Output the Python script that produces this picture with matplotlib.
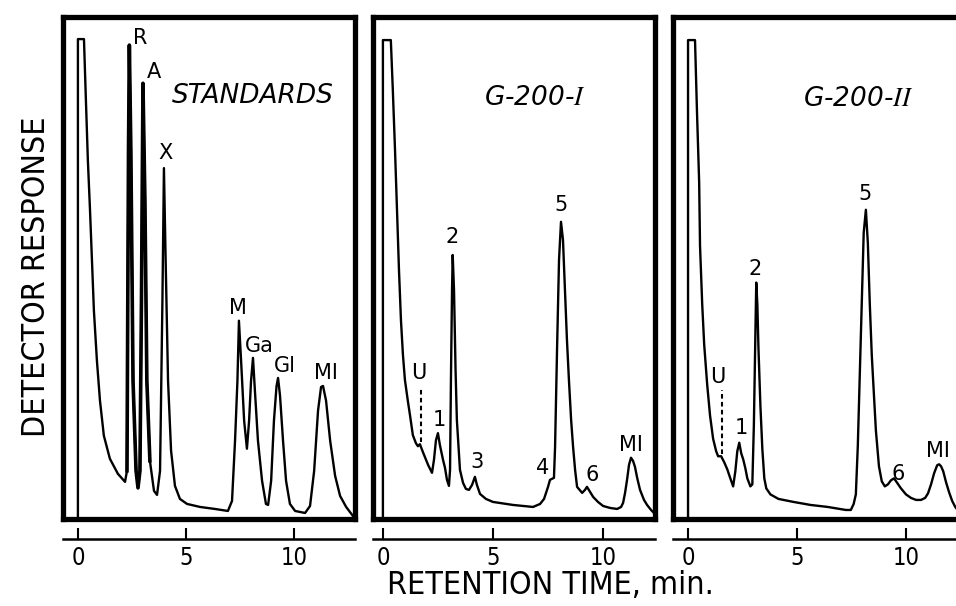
import matplotlib
matplotlib.use('Agg')
import matplotlib.pyplot as plt
from matplotlib import font_manager

# 字体: 有窄体就用窄体
names = {f.name for f in font_manager.fontManager.ttflist}
narrow = 'Liberation Sans Narrow' if 'Liberation Sans Narrow' in names else 'DejaVu Sans'
big = 23
tick_size = 17

plt.rcParams['font.family'] = 'DejaVu Sans'

# 数据: (保留时间 min, 检测器响应 % 满量程)
standards = [
    (0.00, 0), (0.00, 95.6), (0.28, 95.6), (0.37, 83.4), (0.46, 71.5), (0.56, 61.5),
    (0.65, 51.5), (0.74, 41.5), (0.88, 31.5), (1.02, 23.6), (1.20, 16.6), (1.48, 12.0),
    (1.85, 9.0), (2.18, 7.4), (2.27, 9.6), (2.34, 73.5), (2.38, 94.4), (2.45, 73.5),
    (2.55, 27.5), (2.69, 9.6), (2.78, 6.2), (2.87, 9.6), (2.94, 43.5), (3.01, 86.8),
    (3.10, 63.5), (3.19, 27.5), (3.33, 11.6), (3.52, 5.6), (3.66, 4.8), (3.80, 9.6),
    (3.91, 43.5), (3.98, 69.9), (4.05, 53.5), (4.17, 27.5), (4.31, 13.6), (4.49, 6.6),
    (4.72, 4.0), (5.05, 3.0), (5.65, 2.4), (6.34, 2.0), (6.94, 1.6), (7.13, 3.6),
    (7.27, 15.6), (7.38, 27.5), (7.45, 39.5), (7.55, 31.5), (7.69, 19.6), (7.82, 14.0),
    (7.92, 19.6), (8.01, 27.5), (8.10, 32.1), (8.19, 25.5), (8.33, 15.6), (8.52, 7.6),
    (8.70, 3.0), (8.80, 2.8), (8.94, 7.6), (9.07, 19.6), (9.19, 26.5), (9.26, 28.1),
    (9.35, 24.6), (9.49, 15.6), (9.63, 7.6), (9.81, 3.0), (10.05, 1.6), (10.51, 1.2),
    (10.74, 2.6), (10.93, 9.6), (11.11, 21.6), (11.25, 26.3), (11.34, 26.5), (11.48, 23.6),
    (11.67, 15.6), (11.90, 8.6), (12.13, 4.6), (12.41, 2.4), (12.69, 0.8), (12.82, 0),
]

g200_1 = [
    (0.00, 0), (0.00, 95.4), (0.36, 95.4), (0.45, 85.5), (0.55, 73.5), (0.64, 61.6),
    (0.73, 49.6), (0.82, 39.6), (0.91, 32.7), (1.00, 27.7), (1.14, 23.3), (1.23, 20.7),
    (1.36, 16.7), (1.50, 15.1), (1.59, 14.5), (1.68, 14.9), (1.82, 13.3), (2.05, 10.8),
    (2.23, 9.2), (2.32, 11.8), (2.41, 15.7), (2.50, 17.1), (2.59, 14.7), (2.73, 11.8),
    (2.82, 10.2), (2.91, 7.8), (3.00, 6.6), (3.05, 9.8), (3.09, 27.7), (3.14, 45.6),
    (3.17, 52.6), (3.23, 45.6), (3.30, 29.7), (3.36, 19.7), (3.50, 9.8), (3.64, 7.2),
    (3.77, 6.0), (3.91, 5.8), (4.05, 6.8), (4.18, 8.4), (4.27, 6.8), (4.41, 5.0),
    (4.68, 4.0), (5.00, 3.4), (5.91, 2.8), (6.82, 2.4), (7.14, 3.0), (7.32, 4.0),
    (7.50, 6.4), (7.59, 7.8), (7.77, 8.2), (7.82, 14.3), (7.91, 33.7), (8.00, 51.6),
    (8.09, 59.2), (8.18, 55.6), (8.27, 45.6), (8.36, 35.7), (8.45, 27.7), (8.55, 19.7),
    (8.64, 14.3), (8.73, 9.8), (8.82, 6.4), (9.05, 5.2), (9.18, 5.8), (9.27, 6.4),
    (9.41, 5.4), (9.55, 4.4), (9.77, 3.4), (10.00, 2.6), (10.32, 2.2), (10.64, 2.0),
    (10.82, 2.4), (10.91, 3.2), (11.00, 5.2), (11.09, 7.8), (11.18, 10.8), (11.27, 12.2),
    (11.36, 11.6), (11.45, 10.4), (11.55, 8.2), (11.68, 5.8), (11.86, 3.8), (12.00, 2.8),
    (12.18, 1.8), (12.27, 1.4), (12.36, 1.0),
]

g200_2 = [
    (0.00, 0), (0.00, 95.4), (0.32, 95.4), (0.41, 81.2), (0.51, 67.1), (0.55, 54.4),
    (0.65, 42.8), (0.74, 34.8), (0.88, 26.7), (1.01, 20.6), (1.15, 16.0), (1.29, 13.5),
    (1.38, 12.5), (1.52, 12.5), (1.66, 11.3), (1.80, 9.9), (1.94, 8.1), (2.07, 6.5),
    (2.17, 9.5), (2.26, 13.5), (2.35, 15.2), (2.44, 13.1), (2.53, 11.9), (2.63, 10.1),
    (2.72, 8.1), (2.86, 6.5), (2.95, 6.9), (3.02, 18.6), (3.09, 36.8), (3.13, 47.1),
    (3.18, 42.8), (3.23, 34.2), (3.32, 22.6), (3.41, 13.9), (3.50, 8.1), (3.59, 6.1),
    (3.78, 4.9), (4.15, 4.0), (4.84, 3.4), (5.62, 2.8), (6.41, 2.4), (7.24, 1.8),
    (7.47, 1.8), (7.60, 3.0), (7.70, 4.9), (7.79, 14.6), (7.88, 28.7), (7.97, 42.8),
    (8.06, 57.0), (8.16, 61.6), (8.25, 55.0), (8.34, 42.8), (8.43, 32.7), (8.53, 24.7),
    (8.62, 17.6), (8.76, 10.5), (8.89, 7.5), (9.03, 6.5), (9.17, 6.9), (9.31, 7.7),
    (9.45, 8.1), (9.58, 7.3), (9.77, 6.1), (10.00, 4.9), (10.23, 4.2), (10.46, 3.8),
    (10.69, 3.8), (10.88, 4.2), (11.01, 5.1), (11.15, 6.9), (11.29, 9.1), (11.43, 10.7),
    (11.52, 10.9), (11.61, 10.5), (11.71, 9.5), (11.84, 7.3), (11.98, 5.3), (12.12, 3.6),
    (12.26, 2.4), (12.44, 1.4), (12.80, 0.6),
]

x_ticks = [0, 5, 10]
titles = ['STANDARDS', r'G-200-$\mathit{I}$', r'G-200-$\mathit{II}$']

# 峰标记 (文字, 时间, 高度)
peak_labels = [
    [('R', 2.87, 95.8), ('A', 3.52, 89.0), ('X', 4.07, 72.9), ('M', 7.41, 42.1),
     ('Ga', 8.38, 34.5), ('Gl', 9.58, 30.5), ('MI', 11.48, 29.1)],
    [('U', 1.64, 29.0), ('1', 2.55, 19.7), ('2', 3.14, 56.2), ('3', 4.27, 11.4),
     ('4', 7.27, 10.2), ('5', 8.10, 62.5), ('6', 9.50, 8.8), ('MI', 11.27, 14.7)],
    [('U', 1.38, 28.3), ('1', 2.44, 18.2), ('2', 3.09, 49.9), ('5', 8.11, 64.7),
     ('6', 9.65, 8.9), ('MI', 11.47, 13.5)],
]
u_marks = [None, (1.73, 15.3, 26.1), (1.55, 13.0, 25.7)]
# 笔画较粗的峰段 (R, A)
thick_range = [(2.27, 3.33), None, None]

traces = [standards, g200_1, g200_2]

# 每个面板的位置 (像素) 和 x 范围
W, H = 956, 606
panels = [
    (63, 355, (-0.69, 12.82), (8.1, 84.2)),
    (373, 655, (-0.45, 12.36), (6.9, 83.9)),
    (673, 967, (-0.69, 12.80), (7.8, 83.7)),
]
top_px, bot_px = 17, 519

fig = plt.figure(figsize=(W / 100, H / 100), dpi=100)

for i, (x0, x1, xl, tpos) in enumerate(panels):
    ax = fig.add_axes([x0 / W, (H - bot_px) / H, (x1 - x0) / W, (bot_px - top_px) / H])
    t = [p[0] for p in traces[i]]
    r = [p[1] for p in traces[i]]
    ax.plot(t, r, color='black', linewidth=1.7, solid_joinstyle='round')
    if thick_range[i] is not None:
        a, b = thick_range[i]
        seg = [p for p in traces[i] if a <= p[0] <= b]
        ax.plot([p[0] for p in seg], [p[1] for p in seg], color='black',
                linewidth=2.6, solid_joinstyle='round')
    ax.set_xlim(*xl)
    ax.set_ylim(0, 100)
    ax.set_xticks([])
    ax.set_yticks([])
    for s in ax.spines.values():
        s.set_linewidth(3.8)
        s.set_color('black')

    ax.text(tpos[0], tpos[1], titles[i], fontsize=19, style='italic',
            ha='center', va='center', math_fontfamily='stix')
    for txt, lx, ly in peak_labels[i]:
        ax.text(lx, ly, txt, fontsize=15, ha='center', va='center')
    if u_marks[i] is not None:
        ux, ua, ub = u_marks[i]
        ax.plot([ux, ux], [ua, ub], color='black', linewidth=1.5, linestyle=(0, (2.2, 1.6)))

    # 下面单独的时间轴
    sec = ax.secondary_xaxis(-(539 - bot_px) / (bot_px - top_px))
    sec.set_xticks(x_ticks)
    sec.tick_params(direction='in', length=8, width=1.5, pad=5, labelsize=tick_size)
    for lab in sec.get_xticklabels():
        lab.set_family(narrow)
        lab.set_stretch('condensed')
    for s in sec.spines.values():
        s.set_linewidth(1.8)

fig.text(37 / W, 1 - 277 / H, 'DETECTOR RESPONSE', rotation=90, ha='center', va='center',
         fontsize=big, family=narrow, stretch='condensed')
fig.text(550 / W, 1 - 586 / H, 'RETENTION TIME, min.', ha='center', va='center',
         fontsize=big, family=narrow, stretch='condensed')

plt.savefig('out.png', dpi=100)
